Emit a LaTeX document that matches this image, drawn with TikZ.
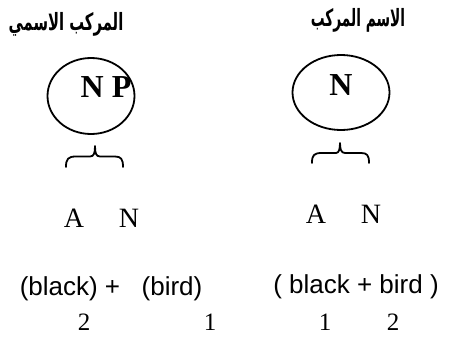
\documentclass[tikz,border=0pt]{standalone}
\usepackage{fontspec}
\setmainfont{Liberation Serif}
\newfontfamily\sansf{Liberation Sans}
\newfontfamily\arabicfont[Script=Arabic]{DejaVu Sans}
\TeXXeTstate=1
\usetikzlibrary{shapes.geometric}
\begin{document}
\begin{tikzpicture}[x=1pt,y=-1pt,
  title/.style={font=\arabicfont\bfseries\fontsize{17}{20}\selectfont, inner sep=0pt},
  oval/.style={draw, ellipse, line width=1.8pt, inner sep=0pt},
  cat/.style={font=\bfseries\fontsize{32}{36}\selectfont, inner sep=0pt, anchor=base},
  lab/.style={font=\fontsize{28}{32}\selectfont, inner sep=0pt, anchor=base},
  gloss/.style={font=\sansf\fontsize{26}{30}\selectfont, inner sep=0pt, anchor=base},
  num/.style={font=\fontsize{25}{30}\selectfont, inner sep=0pt, anchor=base},
  bracepath/.style={line width=1.8pt, line cap=round, line join=round}]
\useasboundingbox (0,0) rectangle (449,356);
% titles
\node[title] (t1) at (66,24) {\scalebox{0.87}[1.4]{\beginR المركب الاسمي\endR}};
\node[title] (t2) at (358,20) {\scalebox{0.81}[1.4]{\beginR الاسم المركب\endR}};
% ellipses
\node[oval, minimum width=87pt, minimum height=76pt] (e1) at (91,96) {};
\node[oval, minimum width=97pt, minimum height=75pt] (e2) at (341,92.5) {};
\node[cat] (np) at (106,97) {N P};
\node[cat] (n) at (341,95) {N};
% braces
\draw[bracepath] (66,167) .. controls (66,159) and (68,156.5) .. (76,156.5) -- (90,156.5)
  .. controls (94,156.5) and (95,153) .. (95,146)
  .. controls (95,153) and (96,156.5) .. (100,156.5) -- (115,156.5)
  .. controls (121,156.5) and (123,159) .. (123,167);
\draw[bracepath] (312,163) .. controls (312,155) and (314,153) .. (322,153) -- (336,153)
  .. controls (339,153) and (340,149) .. (340,143)
  .. controls (340,149) and (341,153) .. (345,153) -- (361,153)
  .. controls (367,153) and (369,155) .. (369,163);
% A N
\node[lab] (a1) at (74,227) {A};
\node[lab] (n1) at (129,227) {N};
\node[lab] (a2) at (316,223) {A};
\node[lab] (n2) at (371,223) {N};
% glosses
\node[gloss] (g1) at (70,295) {(black) +};
\node[gloss] (g2) at (172,295) {(bird)};
\node[gloss] (g3) at (356,293) {( black + bird )};
% numbers
\node[num] (d1) at (84,330) {2};
\node[num] (d2) at (210,330) {1};
\node[num] (d3) at (325,330) {1};
\node[num] (d4) at (393,330) {2};
\end{tikzpicture}
\end{document}
